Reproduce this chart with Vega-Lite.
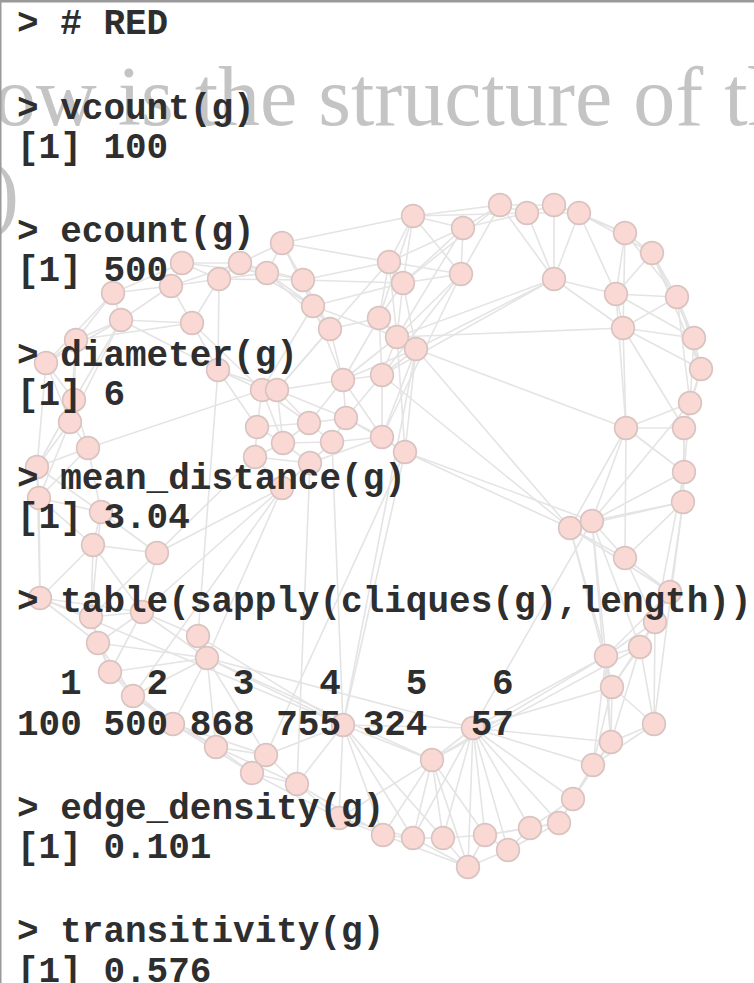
{
  "$schema": "https://vega.github.io/schema/vega-lite/v6.json",
  "width": 754,
  "height": 983,
  "autosize": "none",
  "padding": 0,
  "background": "white",
  "config": {"view": {"stroke": null}},
  "datasets": {
    "nodes": [
      {"id":1,"x":413,"y":216},{"id":2,"x":463,"y":228},{"id":3,"x":500,"y":205},{"id":4,"x":527,"y":213},{"id":5,"x":554,"y":205},
      {"id":6,"x":579,"y":213},{"id":7,"x":625,"y":233},{"id":8,"x":652,"y":253},{"id":9,"x":389,"y":262},{"id":10,"x":403,"y":283},
      {"id":11,"x":461,"y":274},{"id":12,"x":554,"y":279},{"id":13,"x":616,"y":294},{"id":14,"x":677,"y":297},{"id":15,"x":379,"y":318},
      {"id":16,"x":397,"y":337},{"id":17,"x":416,"y":349},{"id":18,"x":623,"y":328},{"id":19,"x":694,"y":338},{"id":20,"x":701,"y":369},
      {"id":21,"x":382,"y":375},{"id":22,"x":282,"y":243},{"id":23,"x":182,"y":263},{"id":24,"x":240,"y":263},{"id":25,"x":267,"y":273},
      {"id":26,"x":219,"y":279},{"id":27,"x":171,"y":286},{"id":28,"x":303,"y":280},{"id":29,"x":113,"y":293},{"id":30,"x":313,"y":306},
      {"id":31,"x":121,"y":320},{"id":32,"x":192,"y":323},{"id":33,"x":330,"y":329},{"id":34,"x":76,"y":340},{"id":35,"x":46,"y":363},
      {"id":36,"x":218,"y":370},{"id":37,"x":262,"y":390},{"id":38,"x":277,"y":390},{"id":39,"x":343,"y":380},{"id":40,"x":74,"y":400},
      {"id":41,"x":70,"y":422},{"id":42,"x":88,"y":448},{"id":43,"x":37,"y":467},{"id":44,"x":39,"y":498},{"id":45,"x":101,"y":512},
      {"id":46,"x":93,"y":545},{"id":47,"x":157,"y":553},{"id":48,"x":257,"y":427},{"id":49,"x":283,"y":443},{"id":50,"x":309,"y":423},
      {"id":51,"x":332,"y":442},{"id":52,"x":346,"y":418},{"id":53,"x":255,"y":457},{"id":54,"x":310,"y":463},{"id":55,"x":282,"y":488},
      {"id":56,"x":382,"y":437},{"id":57,"x":405,"y":452},{"id":58,"x":690,"y":403},{"id":59,"x":684,"y":428},{"id":60,"x":626,"y":428},
      {"id":61,"x":684,"y":472},{"id":62,"x":683,"y":502},{"id":63,"x":570,"y":528},{"id":64,"x":592,"y":521},{"id":65,"x":625,"y":558},
      {"id":66,"x":40,"y":598},{"id":67,"x":91,"y":617},{"id":68,"x":142,"y":612},{"id":69,"x":98,"y":643},{"id":70,"x":110,"y":672},
      {"id":71,"x":133,"y":696},{"id":72,"x":198,"y":636},{"id":73,"x":207,"y":658},{"id":74,"x":173,"y":724},{"id":75,"x":216,"y":747},
      {"id":76,"x":266,"y":755},{"id":77,"x":252,"y":773},{"id":78,"x":297,"y":784},{"id":79,"x":343,"y":725},{"id":80,"x":432,"y":760},
      {"id":81,"x":473,"y":728},{"id":82,"x":339,"y":818},{"id":83,"x":383,"y":835},{"id":84,"x":413,"y":838},{"id":85,"x":443,"y":838},
      {"id":86,"x":485,"y":835},{"id":87,"x":508,"y":850},{"id":88,"x":468,"y":867},{"id":89,"x":530,"y":828},{"id":90,"x":559,"y":823},
      {"id":91,"x":573,"y":799},{"id":92,"x":593,"y":765},{"id":93,"x":611,"y":742},{"id":94,"x":654,"y":724},{"id":95,"x":612,"y":687},
      {"id":96,"x":606,"y":656},{"id":97,"x":640,"y":647},{"id":98,"x":655,"y":622},{"id":99,"x":670,"y":592}
    ],
    "edges": [
      {"s":1,"t":2},{"s":1,"t":3},{"s":1,"t":4},{"s":1,"t":9},{"s":1,"t":10},{"s":1,"t":11},{"s":2,"t":3},{"s":2,"t":4},{"s":2,"t":11},{"s":2,"t":9},
      {"s":2,"t":10},{"s":2,"t":16},{"s":3,"t":4},{"s":3,"t":5},{"s":3,"t":12},{"s":3,"t":11},{"s":4,"t":5},{"s":4,"t":6},{"s":4,"t":12},{"s":5,"t":6},
      {"s":5,"t":12},{"s":5,"t":7},{"s":6,"t":7},{"s":6,"t":12},{"s":6,"t":13},{"s":6,"t":8},{"s":7,"t":8},{"s":7,"t":13},{"s":7,"t":14},{"s":7,"t":18},
      {"s":8,"t":14},{"s":8,"t":19},{"s":8,"t":20},{"s":8,"t":13},{"s":11,"t":9},{"s":11,"t":10},{"s":11,"t":16},{"s":12,"t":13},{"s":12,"t":18},{"s":12,"t":16},
      {"s":13,"t":14},{"s":13,"t":18},{"s":13,"t":19},{"s":14,"t":19},{"s":14,"t":18},{"s":14,"t":20},{"s":18,"t":19},{"s":18,"t":20},{"s":19,"t":20},{"s":18,"t":59},
      {"s":19,"t":58},{"s":20,"t":58},{"s":20,"t":59},{"s":14,"t":58},{"s":13,"t":60},{"s":18,"t":60},{"s":12,"t":17},{"s":3,"t":10},{"s":1,"t":15},
      {"s":9,"t":10},{"s":9,"t":15},{"s":9,"t":16},{"s":10,"t":15},{"s":10,"t":16},{"s":10,"t":17},{"s":15,"t":16},{"s":15,"t":17},{"s":16,"t":17},{"s":15,"t":21},
      {"s":16,"t":21},{"s":17,"t":21},{"s":9,"t":33},{"s":9,"t":28},{"s":10,"t":30},{"s":15,"t":33},{"s":16,"t":39},{"s":17,"t":39},{"s":21,"t":39},{"s":21,"t":56},
      {"s":21,"t":52},{"s":17,"t":56},{"s":17,"t":57},{"s":16,"t":57},{"s":15,"t":39},{"s":1,"t":22},{"s":9,"t":22},{"s":10,"t":28},
      {"s":16,"t":18},{"s":17,"t":60},{"s":17,"t":63},{"s":57,"t":63},{"s":57,"t":64},{"s":21,"t":63},{"s":11,"t":56},{"s":11,"t":21},{"s":12,"t":21},{"s":17,"t":79},
      {"s":22,"t":24},{"s":22,"t":25},{"s":22,"t":28},{"s":23,"t":24},{"s":23,"t":26},{"s":23,"t":27},{"s":23,"t":29},{"s":23,"t":25},{"s":24,"t":25},{"s":24,"t":26},
      {"s":24,"t":27},{"s":24,"t":28},{"s":25,"t":26},{"s":25,"t":28},{"s":25,"t":30},{"s":26,"t":27},{"s":26,"t":32},{"s":26,"t":28},{"s":27,"t":29},{"s":27,"t":31},
      {"s":27,"t":32},{"s":28,"t":30},{"s":28,"t":33},{"s":30,"t":33},{"s":30,"t":39},{"s":33,"t":39},{"s":29,"t":31},{"s":29,"t":34},{"s":31,"t":34},{"s":31,"t":35},
      {"s":31,"t":32},{"s":32,"t":36},{"s":26,"t":36},{"s":25,"t":33},{"s":30,"t":37},{"s":33,"t":38},{"s":30,"t":16},{"s":24,"t":30},{"s":22,"t":30},
      {"s":34,"t":35},{"s":34,"t":40},{"s":34,"t":41},{"s":35,"t":40},{"s":35,"t":41},{"s":35,"t":43},{"s":40,"t":41},{"s":40,"t":42},{"s":41,"t":42},{"s":41,"t":43},
      {"s":42,"t":43},{"s":43,"t":44},{"s":42,"t":44},{"s":44,"t":45},{"s":43,"t":45},{"s":44,"t":46},{"s":45,"t":46},{"s":45,"t":47},{"s":46,"t":47},{"s":42,"t":37},
      {"s":44,"t":66},{"s":43,"t":66},{"s":46,"t":66},{"s":46,"t":67},{"s":46,"t":68},{"s":47,"t":68},{"s":47,"t":67},{"s":47,"t":55},{"s":45,"t":67},{"s":31,"t":40},
      {"s":29,"t":35},{"s":34,"t":32},{"s":41,"t":44},{"s":40,"t":43},{"s":31,"t":41},{"s":42,"t":45},
      {"s":36,"t":37},{"s":36,"t":38},{"s":36,"t":48},{"s":37,"t":38},{"s":37,"t":48},{"s":37,"t":49},{"s":38,"t":49},{"s":38,"t":50},{"s":38,"t":39},{"s":39,"t":52},
      {"s":39,"t":50},{"s":48,"t":49},{"s":48,"t":53},{"s":49,"t":50},{"s":49,"t":51},{"s":49,"t":53},{"s":49,"t":54},{"s":50,"t":51},{"s":50,"t":52},{"s":51,"t":52},
      {"s":51,"t":54},{"s":51,"t":56},{"s":52,"t":56},{"s":53,"t":54},{"s":53,"t":55},{"s":54,"t":55},{"s":55,"t":51},{"s":56,"t":57},{"s":52,"t":57},{"s":54,"t":56},
      {"s":48,"t":50},{"s":37,"t":50},{"s":38,"t":52},{"s":36,"t":72},{"s":55,"t":71},{"s":55,"t":73},{"s":53,"t":47},{"s":36,"t":31},{"s":32,"t":37},{"s":38,"t":33},
      {"s":39,"t":56},{"s":57,"t":79},{"s":54,"t":78},{"s":55,"t":68},{"s":51,"t":79},{"s":57,"t":76},
      {"s":58,"t":59},{"s":58,"t":60},{"s":58,"t":61},{"s":59,"t":60},{"s":59,"t":61},{"s":59,"t":62},{"s":60,"t":61},{"s":60,"t":63},{"s":60,"t":64},{"s":61,"t":62},
      {"s":61,"t":64},{"s":62,"t":64},{"s":62,"t":63},{"s":62,"t":65},{"s":63,"t":64},{"s":63,"t":65},{"s":64,"t":65},{"s":60,"t":65},{"s":58,"t":64},{"s":63,"t":96},
      {"s":63,"t":95},{"s":64,"t":96},{"s":64,"t":97},{"s":63,"t":99},{"s":65,"t":99},{"s":65,"t":98},{"s":62,"t":99},{"s":62,"t":94},{"s":61,"t":98},{"s":64,"t":93},
      {"s":92,"t":93},{"s":92,"t":94},{"s":92,"t":95},{"s":93,"t":94},{"s":93,"t":95},{"s":94,"t":95},{"s":95,"t":96},{"s":95,"t":97},{"s":96,"t":97},{"s":96,"t":98},
      {"s":97,"t":98},{"s":97,"t":99},{"s":98,"t":99},{"s":96,"t":99},{"s":94,"t":97},{"s":93,"t":96},{"s":91,"t":92},{"s":91,"t":93},{"s":90,"t":92},{"s":90,"t":91},
      {"s":89,"t":91},{"s":89,"t":90},{"s":95,"t":98},{"s":94,"t":98},{"s":93,"t":97},{"s":92,"t":96},
      {"s":80,"t":82},{"s":80,"t":83},{"s":80,"t":84},{"s":80,"t":85},{"s":80,"t":86},{"s":81,"t":85},{"s":81,"t":86},{"s":81,"t":87},{"s":81,"t":89},{"s":81,"t":90},
      {"s":81,"t":88},{"s":81,"t":84},{"s":81,"t":91},{"s":81,"t":92},{"s":81,"t":93},{"s":82,"t":83},{"s":83,"t":84},{"s":84,"t":85},{"s":85,"t":86},{"s":85,"t":88},
      {"s":86,"t":87},{"s":86,"t":88},{"s":87,"t":88},{"s":87,"t":89},{"s":86,"t":89},{"s":88,"t":84},{"s":80,"t":81},{"s":80,"t":79},{"s":81,"t":95},{"s":81,"t":96},
      {"s":81,"t":64},{"s":80,"t":96},{"s":83,"t":88},{"s":82,"t":84},{"s":86,"t":90},{"s":87,"t":90},{"s":80,"t":88},{"s":80,"t":97},
      {"s":66,"t":67},{"s":66,"t":69},{"s":66,"t":68},{"s":67,"t":68},{"s":67,"t":69},{"s":67,"t":70},{"s":68,"t":69},{"s":68,"t":70},{"s":68,"t":72},{"s":69,"t":70},
      {"s":69,"t":71},{"s":70,"t":71},{"s":70,"t":74},{"s":71,"t":74},{"s":71,"t":75},{"s":72,"t":73},{"s":73,"t":74},{"s":73,"t":75},{"s":73,"t":76},{"s":74,"t":75},
      {"s":75,"t":76},{"s":75,"t":77},{"s":76,"t":77},{"s":76,"t":78},{"s":77,"t":78},{"s":76,"t":79},{"s":78,"t":79},{"s":78,"t":82},{"s":77,"t":82},{"s":79,"t":82},
      {"s":79,"t":83},{"s":79,"t":84},{"s":79,"t":85},{"s":79,"t":73},{"s":72,"t":79},{"s":71,"t":73},{"s":69,"t":73},{"s":68,"t":73},{"s":70,"t":73},{"s":74,"t":77},
      {"s":75,"t":78},{"s":66,"t":79},{"s":73,"t":81},{"s":73,"t":80},{"s":79,"t":81},{"s":78,"t":83},{"s":74,"t":76}
    ],
    "lines": [
      {"t":"> # RED","x":17,"y":22},
      {"t":"> vcount(g)","x":17,"y":107},
      {"t":"[1] 100","x":17,"y":146},
      {"t":"> ecount(g)","x":17,"y":230},
      {"t":"[1] 500","x":17,"y":269},
      {"t":"> diameter(g)","x":17,"y":354},
      {"t":"[1] 6","x":17,"y":393},
      {"t":"> mean_distance(g)","x":17,"y":477},
      {"t":"[1] 3.04","x":17,"y":516},
      {"t":"> table(sapply(cliques(g),length))","x":17,"y":600},
      {"t":"1\u00a0\u00a0\u00a02\u00a0\u00a0\u00a03\u00a0\u00a0\u00a04\u00a0\u00a0\u00a05\u00a0\u00a0\u00a06","x":60,"y":682},
      {"t":"100 500 868 755 324\u00a0\u00a057","x":17,"y":723},
      {"t":"> edge_density(g)","x":17,"y":807},
      {"t":"[1] 0.101","x":17,"y":846},
      {"t":"> transitivity(g)","x":17,"y":930},
      {"t":"[1] 0.576","x":17,"y":970}
    ],
    "bigtext": [
      {"t":"ow is the structure of the","x":-6,"y":125},
      {"t":")","x":-9,"y":221}
    ],
    "borders": [
      {"x":0,"y":1,"x2":754,"y2":1,"w":3},
      {"x":0.5,"y":0,"x2":0.5,"y2":983,"w":2}
    ]
  },
  "layer": [
    {
      "data": {"name": "bigtext"},
      "mark": {"type": "text", "font": "Liberation Serif", "fontSize": 84, "color": "#c4c4c4", "align": "left", "baseline": "alphabetic"},
      "encoding": {
        "x": {"field": "x", "type": "quantitative", "scale": {"domain": [0, 754], "nice": false, "zero": false}, "axis": null},
        "y": {"field": "y", "type": "quantitative", "scale": {"domain": [0, 983], "nice": false, "zero": false, "reverse": true}, "axis": null},
        "text": {"field": "t"}
      }
    },
    {
      "data": {"name": "edges"},
      "transform": [
        {"lookup": "s", "from": {"data": {"name": "nodes"}, "key": "id", "fields": ["x", "y"]}, "as": ["xa", "ya"]},
        {"lookup": "t", "from": {"data": {"name": "nodes"}, "key": "id", "fields": ["x", "y"]}, "as": ["xb", "yb"]}
      ],
      "mark": {"type": "rule", "color": "#e4e4e4", "strokeWidth": 1.6},
      "encoding": {
        "x": {"field": "xa", "type": "quantitative"},
        "y": {"field": "ya", "type": "quantitative"},
        "x2": {"field": "xb"},
        "y2": {"field": "yb"}
      }
    },
    {
      "data": {"name": "nodes"},
      "mark": {"type": "point", "shape": "circle", "filled": true, "fill": "#fad8d3", "stroke": "#d8c3c0", "strokeWidth": 1.6, "opacity": 1, "size": 520},
      "encoding": {
        "x": {"field": "x", "type": "quantitative"},
        "y": {"field": "y", "type": "quantitative"}
      }
    },
    {
      "data": {"name": "lines"},
      "mark": {"type": "text", "font": "Liberation Mono", "fontSize": 36, "fontWeight": "bold", "color": "#2e2e2e", "align": "left", "baseline": "middle", "dy": 1},
      "encoding": {
        "x": {"field": "x", "type": "quantitative"},
        "y": {"field": "y", "type": "quantitative"},
        "text": {"field": "t"}
      }
    },
    {
      "data": {"name": "borders"},
      "mark": {"type": "rule", "color": "#9a9a9a"},
      "encoding": {
        "x": {"field": "x", "type": "quantitative"},
        "y": {"field": "y", "type": "quantitative"},
        "x2": {"field": "x2"},
        "y2": {"field": "y2"},
        "strokeWidth": {"field": "w", "type": "quantitative", "scale": null}
      }
    }
  ]
}
